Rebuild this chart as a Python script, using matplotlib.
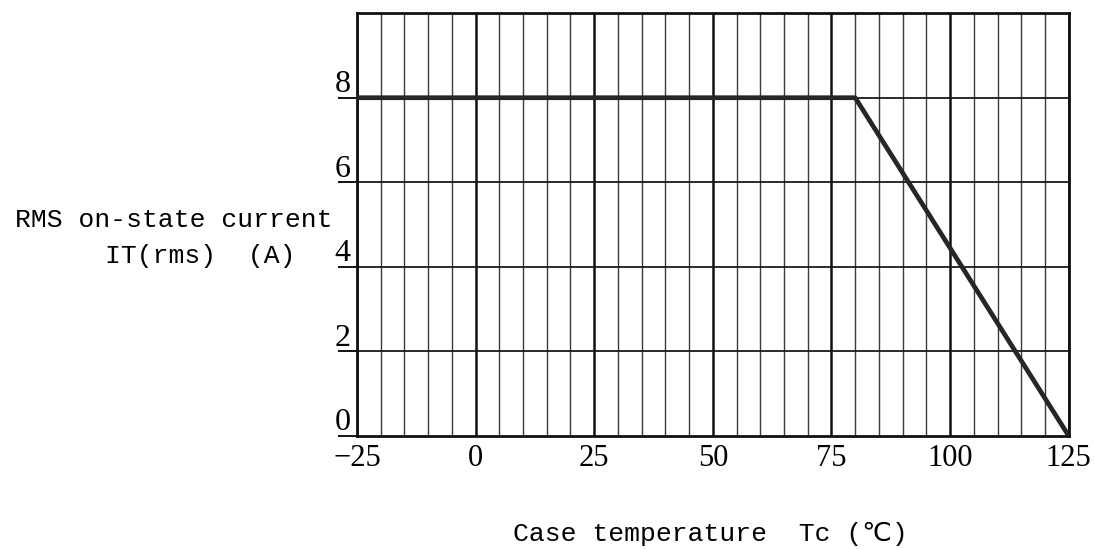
import matplotlib.pyplot as plt
import matplotlib.transforms as mtransforms

# derating curve: RMS on-state current vs case temperature
temp_c = [-25, 80, 125]
it_rms = [8, 8, 0]

x_major = [-25, 0, 25, 50, 75, 100, 125]
x_minor = list(range(-25, 126, 5))
y_ticks = [0, 2, 4, 6, 8]

mono = ["Liberation Mono", "DejaVu Sans"]
serif = ["Liberation Serif", "DejaVu Serif"]

fig = plt.figure(figsize=(10.95, 5.49), dpi=100)
ax = fig.add_axes([0.326, 0.206, 0.650, 0.770])

ax.set_xlim(-25, 125)
ax.set_ylim(0, 10)

# grid: thin lines every 5 degC, heavier every 25 degC, horizontals every 2 A
for x in x_minor:
    if x in x_major:
        ax.axvline(x, color="#111111", lw=1.8, zorder=1)
    else:
        ax.axvline(x, color="#3a3a3a", lw=1.0, zorder=1)
for y in y_ticks[1:]:
    ax.axhline(y, color="#1a1a1a", lw=1.3, zorder=1)

ax.plot(temp_c, it_rms, color="#262626", lw=3.4, solid_capstyle="round",
        solid_joinstyle="round", zorder=3)

for side in ax.spines.values():
    side.set_linewidth(2.0)
    side.set_color("#111111")

ax.set_xticks(x_major)
ax.set_xticklabels(["\u221225" if v < 0 else str(v) for v in x_major],
                   family=serif, fontsize=22)
ax.tick_params(axis="x", length=0, pad=6)

ax.set_yticks(y_ticks)
ax.set_yticklabels([])
ax.tick_params(axis="y", length=14, width=1.3, direction="out")

trans = mtransforms.blended_transform_factory(ax.transAxes, ax.transData)
off = mtransforms.ScaledTranslation(0, 4 / 72, fig.dpi_scale_trans)
for y in y_ticks:
    ax.text(-0.009, y, str(y), transform=trans + off, ha="right", va="baseline",
            family=serif, fontsize=23)

fig.text(0.0137, 0.5865, "RMS on-state current", family=mono, fontsize=19,
         ha="left", va="baseline")
fig.text(0.0959, 0.521, "IT(rms)  (A)", family=mono, fontsize=19,
         ha="left", va="baseline")
fig.text(0.4685, 0.0146, "Case temperature  Tc (\u2103)", family=mono,
         fontsize=19, ha="left", va="baseline")

fig.savefig("out.png", dpi=100)
